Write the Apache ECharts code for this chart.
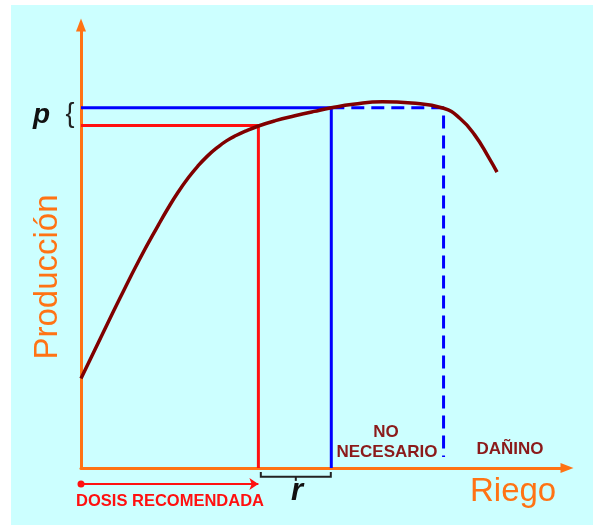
<!DOCTYPE html>
<html>
<head>
<meta charset="utf-8">
<script src="https://cdn.jsdelivr.net/npm/echarts@6.0.0/dist/echarts.min.js"></script>
<style>
  html, body { margin: 0; padding: 0; background: #fff; }
  #chart { width: 593px; height: 526px; }
</style>
</head>
<body>
<div id="chart"></div>
<script>
// curva de produccion frente a riego (unidades relativas 0-100)
const riego = [0, 4, 8, 12, 16, 18, 20, 22, 24, 26, 28, 30, 32, 34, 36.5, 40, 44, 48, 51.5, 56, 62, 68, 74.6, 78, 81, 84, 85.6]
const produccion = [20.2, 29.3, 38.3, 47.0, 55.0, 58.8, 62.3, 65.4, 68.1, 70.4, 72.3, 73.9, 75.1, 76.1, 77.2, 78.4, 79.5, 80.5, 81.3, 82.1, 82.7, 82.4, 81.2, 78.9, 75.2, 69.9, 66.8]

// puntos de referencia [riego, produccion]
const dosisRecomendada = [36.5, 77.3]
const dosisMaxima = [51.5, 81.3]
const limiteDanino = [74.6, 81.3]
const finDanino = 2.5

// flecha y llave bajo el eje
const flechaY = -3.6
const llave = { x0: 37, x1: 51.4, arriba: -0.9, medio: -2, abajo: -2.9 }

const orange = '#ff7314'
const font = 'Liberation Sans, Arial, sans-serif'

const chart = echarts.init(document.getElementById('chart'))

const axisBase = {
  type: 'value',
  min: 0,
  max: 100,
  splitLine: { show: false },
  axisTick: { show: false },
  axisLabel: { show: false },
  axisLine: {
    show: true,
    onZero: false,
    symbol: ['none', 'triangle'],
    symbolSize: [10, 13],
    lineStyle: { color: orange, width: 3 }
  }
}

chart.setOption({
  backgroundColor: '#fff',
  animation: false,
  grid: { left: 81, right: 26, top: 25, bottom: 58 },
  xAxis: axisBase,
  yAxis: axisBase,
  series: [
    {
      type: 'line',
      symbol: 'none',
      lineStyle: { color: '#ff1010', width: 3 },
      data: [[0, dosisRecomendada[1]], dosisRecomendada, [dosisRecomendada[0], 0]],
      z: 2
    },
    {
      type: 'line',
      symbol: 'none',
      lineStyle: { color: '#0000ff', width: 3 },
      data: [[0, dosisMaxima[1]], dosisMaxima, [dosisMaxima[0], 0]],
      z: 2
    },
    {
      type: 'line',
      symbol: 'none',
      lineStyle: { color: '#0000ff', width: 3, type: [13, 7] },
      data: [dosisMaxima, [limiteDanino[0], dosisMaxima[1]], [limiteDanino[0], finDanino]],
      z: 2
    },
    {
      type: 'line',
      symbol: 'none',
      smooth: 0.5,
      lineStyle: { color: '#800000', width: 3.5 },
      data: riego.map((x, i) => [x, produccion[i]]),
      z: 3
    },
    {
      type: 'lines',
      coordinateSystem: 'cartesian2d',
      clip: false,
      symbol: ['circle', 'arrow'],
      symbolSize: [7, 9],
      lineStyle: { color: '#ff1010', width: 2, opacity: 1 },
      data: [{ coords: [[0, flechaY], [dosisRecomendada[0], flechaY]] }]
    },
    {
      type: 'lines',
      coordinateSystem: 'cartesian2d',
      polyline: true,
      clip: false,
      symbol: 'none',
      lineStyle: { color: '#222', width: 2, opacity: 1 },
      data: [
        { coords: [[llave.x0, llave.arriba], [llave.x0, llave.medio], [llave.x1, llave.medio], [llave.x1, llave.arriba]] },
        { coords: [[(llave.x0 + llave.x1) / 2, llave.medio], [(llave.x0 + llave.x1) / 2, llave.abajo]] }
      ]
    }
  ],
  graphic: [
    { type: 'rect', z: -10, silent: true, shape: { x: 11, y: 5, width: 582, height: 520 }, style: { fill: '#ccffff' } },
    { type: 'text', z: 10, x: 41.5, y: 115.5, style: { text: 'p', font: 'italic bold 28px ' + font, fill: '#111', align: 'center', verticalAlign: 'middle' } },
    { type: 'text', z: 10, x: 70, y: 115, style: { text: '{', font: '27px ' + font, fill: '#222', align: 'center', verticalAlign: 'middle' } },
    { type: 'text', z: 10, x: 48, y: 277, rotation: Math.PI / 2, style: { text: 'Producción', font: '33px ' + font, fill: orange, align: 'center', verticalAlign: 'middle' } },
    { type: 'text', z: 10, x: 470, y: 491.5, style: { text: 'Riego', font: '33px ' + font, fill: orange, align: 'left', verticalAlign: 'middle' } },
    { type: 'text', z: 10, x: 170, y: 501, style: { text: 'DOSIS RECOMENDADA', font: 'bold 16.5px ' + font, fill: '#ff1010', align: 'center', verticalAlign: 'middle' } },
    { type: 'text', z: 10, x: 297, y: 491, style: { text: 'r', font: 'italic bold 31px ' + font, fill: '#111', align: 'center', verticalAlign: 'middle' } },
    { type: 'text', z: 10, x: 386, y: 432, style: { text: 'NO', font: 'bold 17px ' + font, fill: '#8b1a1a', align: 'center', verticalAlign: 'middle' } },
    { type: 'text', z: 10, x: 387, y: 452, style: { text: 'NECESARIO', font: 'bold 17px ' + font, fill: '#8b1a1a', align: 'center', verticalAlign: 'middle' } },
    { type: 'text', z: 10, x: 510, y: 449, style: { text: 'DAÑINO', font: 'bold 17px ' + font, fill: '#8b1a1a', align: 'center', verticalAlign: 'middle' } }
  ]
})
</script>
</body>
</html>
